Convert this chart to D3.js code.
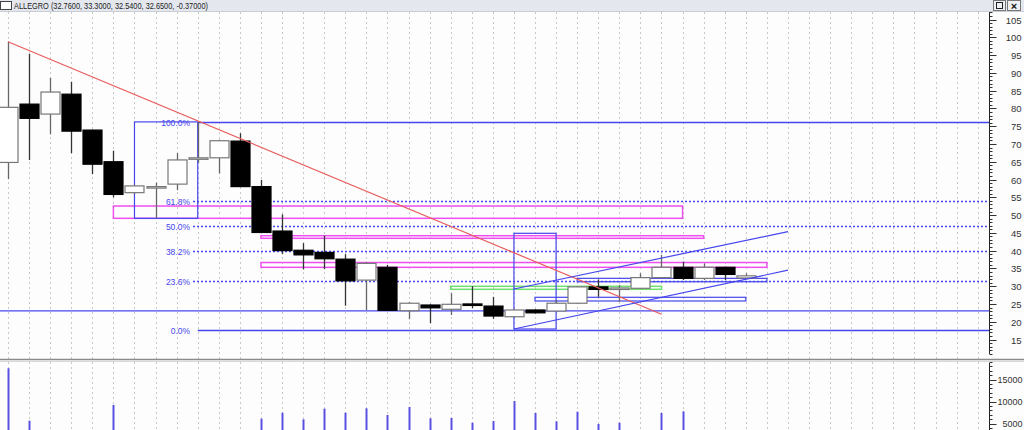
<!DOCTYPE html>
<html><head><meta charset="utf-8">
<script src="https://cdn.jsdelivr.net/npm/d3@7"></script>
<style>body{margin:0;background:#fff;overflow:hidden}svg{display:block;font-family:"Liberation Sans",Arial,sans-serif}</style>
</head><body><svg id="c" width="1024" height="430"></svg>
<script>
// ---- data ----
const title = "ALLEGRO (32.7600, 33.3000, 32.5400, 32.6500, -0.37000)";
const bars   = [0,1,2,3,4,5,6,7,8,9,10,11,12,13,14,15,16,17,18,19,20,21,22,23,24,25,26,27,28,29,30,31,32,33,34,35];
const opens  = [64.8,81.2,78.4,84.0,73.9,65.0,56.3,58.0,58.7,66.1,66.1,70.8,58.0,45.5,40.1,39.5,37.6,31.7,35.3,23.1,24.7,23.5,25.0,24.4,21.4,23.3,23.0,25.2,29.8,29.4,29.4,32.4,35.3,32.2,35.3,32.3];
const highs  = [98.8,95.3,88.6,87.5,74.0,68.1,58.5,59.1,67.4,76.2,71.2,73.0,59.9,50.2,42.1,44.2,39.0,36.8,36.0,25.5,24.9,28.0,30.0,27.0,23.4,23.5,26.1,30.0,31.9,30.3,33.6,38.8,36.9,36.4,35.5,33.6];
const lows   = [60.1,65.5,72.7,67.4,61.5,55.0,56.0,49.1,57.0,64.7,61.7,58.0,45.1,39.0,34.7,34.8,24.5,23.3,23.2,20.7,19.6,21.9,23.8,20.8,21.2,22.3,22.9,25.0,27.0,25.6,29.3,32.3,31.7,31.7,31.7,32.1];
const closes = [80.3,77.2,84.6,73.6,64.3,55.8,58.2,58.0,65.5,66.1,70.9,58.0,45.1,40.0,38.8,37.7,31.5,36.4,23.2,25.2,23.9,24.9,24.9,21.6,23.3,22.5,25.2,29.8,29.1,29.5,32.4,35.3,32.2,35.3,33.3,32.9];
const volumes= [17545,5640,0,0,0,9200,0,0,0,0,0,0,6090,7450,5950,8360,7450,8450,6930,8750,6180,6250,5180,5570,10110,7390,5500,7680,4890,5180,0,7390,7770,0,0,0];
const priceTicks  = [15,20,25,30,35,40,45,50,55,60,65,70,75,80,85,90,95,100,105];
const volumeTicks = [5000,10000,15000];
const fibLevels = [100.0, 61.8, 50.0, 38.2, 23.6, 0.0];
const fibHigh = 76.2, fibLow = 17.67;
// annotations in data space: [startBar, endBar, priceTop, priceBottom]
const magentaBoxes = [[5,32,52.54,49.08],[12,33,44.19,43.46],[12,36,36.65,35.30]];
const blueBoxes    = [[6,9,76.2,49.08],[24,26,44.87,17.95],[27,36,32.2,31.25],[25,35,26.87,25.83]];
const greenBoxes   = [[21,31,29.96,29.12]];
const redLines     = [[0,98.75,31,22.09]];
const blueLines    = [[24,29.2,37,45.34],[24,17.95,37,34.5]];
const hLevels      = [23.05];

// ---- scales ----
const W = 1024, H = 430, axisX = 989.5;
const x  = d3.scaleLinear().domain([0,46]).range([8,977.7]);
const y  = d3.scaleLinear().domain([15,105]).range([339.5,19.5]);
const yv = d3.scaleLinear().domain([0,15000]).range([445.5,379.5]);
const BLUE = "#4646ee", MAG = "#ee4fee", RED = "#e85c5c", GREEN = "#6fe06f";

const svg = d3.select("#c");
svg.append("rect").attr("width",W).attr("height",H).attr("fill","#fdfdfd");

// grid (vertical dotted)
svg.append("g").selectAll("line").data(d3.range(0,47)).join("line")
  .attr("x1",d=>Math.round(x(d))+0.5).attr("x2",d=>Math.round(x(d))+0.5)
  .attr("y1",12).attr("y2",H).attr("stroke","#c8c8c8").attr("stroke-dasharray","2,3");

const clipG = svg.append("g");

// horizontal solid level
clipG.selectAll(".hl").data(hLevels).join("line")
  .attr("x1",0).attr("x2",axisX).attr("y1",d=>y(d)).attr("y2",d=>y(d))
  .attr("stroke",BLUE).attr("stroke-width",1.2);

// fib levels
const fibVal = p => fibLow + (fibHigh-fibLow)*p/100;
const fg = clipG.append("g");
fibLevels.forEach(p=>{
  const yy = Math.round(y(fibVal(p)))+0.5;
  const solid = (p===100||p===0);
  fg.append("line").attr("x1", solid? x(9): 193).attr("x2",axisX).attr("y1",yy).attr("y2",yy)
    .attr("stroke",BLUE).attr("stroke-width",1.3).attr("stroke-dasharray",solid?null:"2,2");
  fg.append("text").attr("x",190).attr("y",yy+3).attr("text-anchor","end")
    .attr("font-size",8.5).attr("fill",BLUE).text(p.toFixed(1)+"%");
});

function boxes(data,color,sw){
  clipG.append("g").selectAll("rect").data(data).join("rect")
    .attr("x",d=>x(d[0])).attr("width",d=>x(d[1])-x(d[0]))
    .attr("y",d=>y(d[2])).attr("height",d=>y(d[3])-y(d[2]))
    .attr("fill","none").attr("stroke",color).attr("stroke-width",sw);
}
boxes(magentaBoxes,MAG,1.5);
boxes(greenBoxes,GREEN,1.5);

// candles
const cg = svg.append("g");
bars.forEach(i=>{
  const up = closes[i] >= opens[i];
  const cx = Math.round(x(i))+0.5;
  cg.append("line").attr("x1",cx).attr("x2",cx).attr("y1",y(highs[i])).attr("y2",y(lows[i]))
    .attr("stroke", up?"#666":"#333").attr("stroke-width",1.3);
  const top = y(Math.max(opens[i],closes[i])), bot = y(Math.min(opens[i],closes[i]));
  cg.append("rect").attr("x",cx-9.5).attr("width",19)
    .attr("y",top).attr("height",Math.max(1.5,bot-top))
    .attr("fill",up?"#fff":"#000").attr("stroke",up?"#777":"#000").attr("stroke-width",1.2);
});

boxes(blueBoxes,BLUE,1.2);
// trend lines
svg.append("g").selectAll("line").data(redLines).join("line")
  .attr("x1",d=>x(d[0])).attr("y1",d=>y(d[1])).attr("x2",d=>x(d[2])).attr("y2",d=>y(d[3]))
  .attr("stroke",RED).attr("stroke-width",1.2);
svg.append("g").selectAll("line").data(blueLines).join("line")
  .attr("x1",d=>x(d[0])).attr("y1",d=>y(d[1])).attr("x2",d=>x(d[2])).attr("y2",d=>y(d[3]))
  .attr("stroke",BLUE).attr("stroke-width",1.2);

// panel cover right of axis
svg.append("rect").attr("x",axisX).attr("y",12).attr("width",W-axisX).attr("height",H-12).attr("fill","#fdfdfd");

// price axis
const minor = d3.range(11,108,1);
const ag = svg.append("g").attr("transform",`translate(${axisX},0)`);
ag.append("line").attr("x1",0).attr("x2",0).attr("y1",12).attr("y2",354).attr("stroke","#222");
ag.selectAll(".mt").data(minor).join("line").attr("x1",0).attr("x2",d=>d%5===0?7:3)
  .attr("y1",d=>Math.round(y(d))+0.5).attr("y2",d=>Math.round(y(d))+0.5).attr("stroke","#333");
ag.selectAll("text.pt").data(priceTicks).join("text").attr("class","pt")
  .attr("x",32).attr("y",d=>y(d)+4).attr("text-anchor","end").attr("font-size",9.5).attr("fill","#333").text(d=>d);

// divider
svg.append("line").attr("x1",0).attr("x2",W).attr("y1",359.5).attr("y2",359.5).attr("stroke","#8a8a8a").attr("stroke-width",1.5);
svg.append("line").attr("x1",0).attr("x2",W).attr("y1",361.5).attr("y2",361.5).attr("stroke","#d8d8d8").attr("stroke-width",1);

// volume
svg.append("g").selectAll("line").data(bars.filter(i=>volumes[i]>0)).join("line")
  .attr("x1",i=>Math.round(x(i))+0.5).attr("x2",i=>Math.round(x(i))+0.5)
  .attr("y1",i=>yv(volumes[i])).attr("y2",H).attr("stroke","#5a50e0").attr("stroke-width",2);
const vg = svg.append("g").attr("transform",`translate(${axisX},0)`);
vg.append("line").attr("x1",0).attr("x2",0).attr("y1",363).attr("y2",H).attr("stroke","#222");
vg.selectAll(".vm").data(d3.range(4000,20000,1000)).join("line").attr("x1",0).attr("x2",d=>d%5000===0?7:3)
  .attr("y1",d=>Math.round(yv(d))+0.5).attr("y2",d=>Math.round(yv(d))+0.5).attr("stroke","#333");
vg.selectAll("text").data(volumeTicks).join("text")
  .attr("x",33).attr("y",d=>yv(d)+3.2).attr("text-anchor","end").attr("font-size",9).attr("fill","#333").text(d=>d);

// title bar
svg.append("rect").attr("x",0).attr("y",0).attr("width",W).attr("height",11).attr("fill","#e4e8ee");
svg.append("line").attr("x1",0).attr("x2",W).attr("y1",11.5).attr("y2",11.5).attr("stroke","#c9ced6");
svg.append("rect").attr("x",0.5).attr("y",1.5).attr("width",11).attr("height",8).attr("fill","#fff").attr("stroke","#444");
svg.append("text").attr("x",14).attr("y",9).attr("font-size",9).attr("fill","#222")
  .attr("textLength",194).attr("lengthAdjust","spacingAndGlyphs").text(title);
svg.append("rect").attr("x",993.5).attr("y",0.5).attr("width",12).attr("height",10).attr("fill","#eef0f3").attr("stroke","#777");
svg.append("rect").attr("x",996.5).attr("y",2.5).attr("width",6).attr("height",6).attr("fill","none").attr("stroke","#222");
svg.append("rect").attr("x",1007.5).attr("y",0.5).attr("width",13).attr("height",10).attr("fill","#eef0f3").attr("stroke","#777");
svg.append("text").attr("x",1014).attr("y",9.5).attr("text-anchor","middle").attr("font-size",11).attr("font-weight","bold").attr("fill","#111").text("×");
</script></body></html>
